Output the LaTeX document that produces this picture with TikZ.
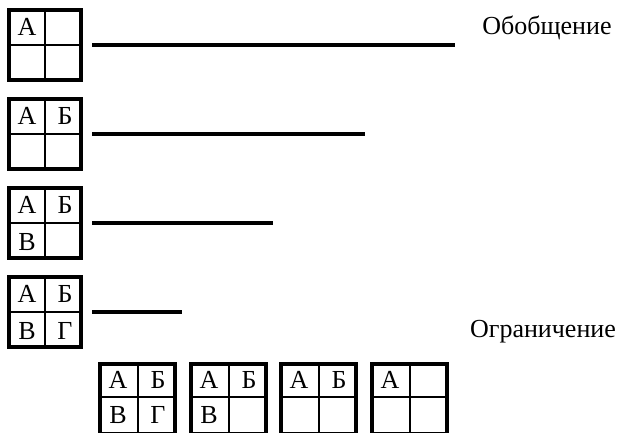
\documentclass[tikz,border=0pt]{standalone}
\usepackage{fontspec}
\setmainfont{Liberation Serif}
\newfontfamily\tnr{Liberation Serif}
\begin{document}
\begin{tikzpicture}[x=1pt,y=-1pt,
  every node/.style={font=\tnr\fontsize{26}{30}\selectfont, inner sep=0pt},
  box/.style={draw, line width=4pt, minimum width=72pt, minimum height=70pt, rectangle, anchor=center, outer sep=0pt},
  bbox/.style={draw, line width=4pt, minimum width=75pt, minimum height=70pt, rectangle, anchor=north west, outer sep=0pt},
  divider/.style={line width=2pt},
  conn/.style={line width=4pt}]
\useasboundingbox (0,0) rectangle (620,432);
% left column
\foreach \k/\e in {0/455,1/365,2/273,3/182}{
  \node[box] (b\k) at (45,{45+89*\k}) {};
  \draw[divider] (b\k.north) -- (b\k.south);
  \draw[divider] (b\k.west) -- (b\k.east);
  \coordinate (s\k) at ([xshift=11pt]b\k.east);
  \coordinate (e\k) at (\e,{45+89*\k});
  \draw[conn] (s\k) -- (e\k);
}
\node (a0) at (27,27) {А};
\node (a1) at (27,116) {А};  \node (c1) at (65,116) {Б};
\node (a2) at (27,205) {А};  \node (c2) at (65,205) {Б};
\node (d2) at (27,242) {В};
\node (a3) at (27,294) {А};  \node (c3) at (65,294) {Б};
\node (d3) at (27,331) {В};  \node (f3) at (65,331) {Г};
% bottom row
\foreach \k/\x in {0/100,1/191,2/281,3/372}{
  \node[bbox] (q\k) at (\x,364) {};
  \draw[divider] (q\k.north) -- (q\k.south);
  \coordinate (l\k) at (q\k.west |- 0,397);
  \coordinate (r\k) at (q\k.east |- 0,397);
  \draw[divider] (l\k) -- (r\k);
}
\node (qa0) at (118,380) {А}; \node (qb0) at (158,380) {Б};
\node (qc0) at (118,415) {В}; \node (qd0) at (158,415) {Г};
\node (qa1) at (209,380) {А}; \node (qb1) at (249,380) {Б};
\node (qc1) at (209,415) {В};
\node (qa2) at (299,380) {А}; \node (qb2) at (339,380) {Б};
\node (qa3) at (390,380) {А};
% labels
\node (gen) at (547,28) {Обобщение};
\node (lim) at (543,332) {Ограничение};
\end{tikzpicture}
\end{document}
